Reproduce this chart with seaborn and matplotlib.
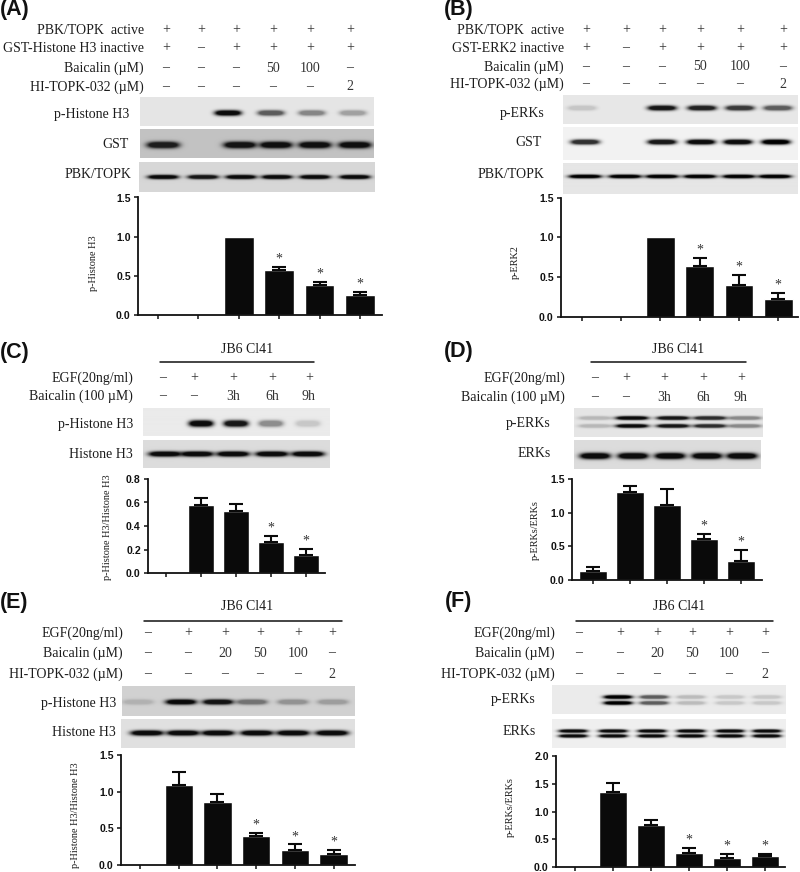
import numpy as np
import matplotlib
matplotlib.use('Agg')
import matplotlib.pyplot as plt
import seaborn as sns

# bar values
a_vals = [0, 0, 1.0, 0.57, 0.38, 0.26]
a_errs = [0, 0, 0, 0.04, 0.04, 0.03]
a_star = [3, 4, 5]
b_vals = [0, 0, 1.0, 0.64, 0.40, 0.22]
b_errs = [0, 0, 0, 0.10, 0.13, 0.08]
b_star = [3, 4, 5]
c_vals = [0, 0.58, 0.53, 0.26, 0.15]
c_errs = [0, 0.06, 0.055, 0.055, 0.055]
c_star = [3, 4]
d_vals = [0.13, 1.31, 1.12, 0.61, 0.28]
d_errs = [0.06, 0.09, 0.23, 0.08, 0.17]
d_star = [3, 4]
e_vals = [0, 1.09, 0.86, 0.40, 0.20, 0.15]
e_errs = [0, 0.18, 0.11, 0.04, 0.08, 0.05]
e_star = [3, 4, 5]
f_vals = [0, 1.36, 0.75, 0.26, 0.17, 0.19]
f_errs = [0, 0.15, 0.10, 0.08, 0.06, 0.04]
f_star = [3, 4, 5]

# treatment rows
a_rows = [('PBK/TOPK  active', ['+', '+', '+', '+', '+', '+']),
          ('GST-Histone H3 inactive', ['+', '–', '+', '+', '+', '+']),
          ('Baicalin (µM)', ['–', '–', '–', '50', '100', '–']),
          ('HI-TOPK-032 (µM)', ['–', '–', '–', '–', '–', '2'])]
b_rows = [('PBK/TOPK  active', ['+', '+', '+', '+', '+', '+']),
          ('GST-ERK2 inactive', ['+', '–', '+', '+', '+', '+']),
          ('Baicalin (µM)', ['–', '–', '–', '50', '100', '–']),
          ('HI-TOPK-032 (µM)', ['–', '–', '–', '–', '–', '2'])]
time_rows = [('EGF(20ng/ml)', ['–', '+', '+', '+', '+']),
             ('Baicalin (100 µM)', ['–', '–', '3h', '6h', '9h'])]
dose_rows = [('EGF(20ng/ml)', ['–', '+', '+', '+', '+', '+']),
             ('Baicalin (µM)', ['–', '–', '20', '50', '100', '–']),
             ('HI-TOPK-032 (µM)', ['–', '–', '–', '–', '–', '2'])]

# band strength per lane, 0 is no band
a_phh3 = [0, 0, .95, .6, .42, .3]
a_gst = [.85, 0, .9, .92, .92, .92]
a_pbk = [.95, .9, .95, .95, .95, .95]
b_perk = [.15, 0, .9, .85, .75, .6]
b_gst = [.8, 0, .9, .95, .95, 1]
b_pbk = [1, 1, 1, 1, 1, 1]
c_phh3 = [0, .95, .9, .4, .15]
c_hh3 = [.95, .95, .95, .95, .95]
d_perk = [.2, .95, .9, .8, .4]
d_erk = [.95, .95, .95, .95, .95]
e_phh3 = [.15, .95, .9, .45, .3, .25]
e_hh3 = [.95, .95, .95, .95, .95, .95]
f_perk = [0, 1, .6, .2, .15, .15]
f_erk = [.95, .95, .95, .95, .95, .95]

W, H = 800, 872
SERIF = 'Liberation Serif'
INK = '#1c1c1c'

sns.set_theme(style='white', rc={'axes.facecolor': 'none'})
fig = plt.figure(figsize=(W / 100, H / 100), dpi=100, facecolor='white')


def put(x, y, s, **kw):
    kw.setdefault('family', SERIF)
    kw.setdefault('fontsize', 10)
    kw.setdefault('color', INK)
    kw.setdefault('va', 'center')
    fig.text(x / W, 1 - y / H, s, **kw)


def treatments(rows, ys, label_x, lanes):
    for (name, marks), y in zip(rows, ys):
        put(label_x, y, name, ha='right')
        for x, m in zip(lanes, marks):
            put(x, y, m, ha='center', color='#333333')


def blot(box, bg, lanes, level, ys, hw, hh, name, name_x, name_y):
    x0, y0, x1, y1 = box
    ax = fig.add_axes([x0 / W, 1 - y1 / H, (x1 - x0) / W, (y1 - y0) / H])
    xx, yy = np.meshgrid(np.linspace(x0, x1, (x1 - x0) * 3),
                         np.linspace(y0, y1, (y1 - y0) * 3))
    img = np.ones_like(xx)
    for x, lev in zip(lanes, level):
        for y in ys:
            # flat topped band, the real ones saturate
            band = np.minimum(1, 1.7 * np.exp(-((xx - x) / hw) ** 4 - ((yy - y) / hh) ** 2))
            img *= 1 - lev * band
    ax.imshow(img * bg, cmap='gray', vmin=0, vmax=1, aspect='auto',
              interpolation='bilinear')
    ax.axis('off')
    put(name_x, name_y, name, ha='right')


def bars(left, right, top, zero, tick0, step, vals, errs, stars, ymax, yticks, ylabel, label_x, label_y):
    ax = fig.add_axes([left / W, 1 - zero / H, (right - left) / W, (zero - top) / H])
    lanes = [str(i) for i in range(len(vals))]
    sns.barplot(x=lanes, y=vals, color='#0a0a0a', saturation=1, width=0.73,
                errorbar=None, ax=ax)
    pos = np.arange(len(vals))
    keep = np.array(errs) > 0
    v = np.array(vals)[keep]
    e = np.array(errs)[keep]
    ax.errorbar(pos[keep], v, yerr=[np.zeros_like(e), e], fmt='none', ecolor='#0a0a0a',
                elinewidth=1.5, capsize=5.2, capthick=1.5)
    for i in stars:
        ax.annotate('*', (i, vals[i] + errs[i]), xytext=(0, 1), textcoords='offset points',
                    ha='center', va='bottom', family=SERIF, fontsize=10, color='#333333')
    ax.set_xlim((left - tick0) / step, (right - tick0) / step)
    ax.set_ylim(0, ymax)
    ax.set_yticks(yticks)
    ax.set_yticklabels(['%.1f' % t for t in yticks], family='Liberation Sans',
                       fontweight='bold', fontsize=7.6, color='#111111')
    ax.set_xticks(pos)
    ax.set_xticklabels([])
    ax.set_xlabel('')
    ax.tick_params(axis='both', which='both', direction='out', length=3.2, width=1.1,
                   color='#111111', bottom=True, left=True, pad=2)
    sns.despine(ax=ax)
    for side in ['left', 'bottom']:
        ax.spines[side].set_linewidth(1.3)
        ax.spines[side].set_color('#111111')
    put(label_x, label_y, ylabel, rotation=90, ha='center', fontsize=7.4)


def header(cx, y_text, x0, x1, y_line):
    put(cx, y_text, 'JB6 Cl41', ha='center')
    fig.add_artist(plt.Line2D([x0 / W, x1 / W], [1 - y_line / H] * 2, color='#111111', lw=1.1))


for s, x, y in [('(A)', 0, 10), ('(B)', 444, 10), ('(C)', 0, 352),
                ('(D)', 444, 351), ('(E)', 0, 602), ('(F)', 445, 601)]:
    put(x, y, s, family='Liberation Sans', fontweight='bold', fontsize=15.5, color='#111111', ha='left')

# panel A
treatments(a_rows, [30, 48, 68, 87], 144, [166, 201, 236, 273, 310, 350])
blot((140, 97, 374, 126), .90, [166, 203, 228, 271, 312, 353], a_phh3, [113], 13, 2.6, 'p-Histone H3', 129, 114)
blot((140, 129, 374, 158), .76, [163, 203, 240, 276, 315, 355], a_gst, [145], 16, 3.2, 'GST', 129, 144)
blot((139, 162, 375, 192), .84, [163, 203, 241, 277, 315, 355], a_pbk, [177], 15, 2.0, 'PBK/TOPK', 131, 175)
bars(138, 382, 197.5, 315, 158, 40.4, a_vals, a_errs, a_star, 1.5, [0, .5, 1, 1.5], 'p-Histone H3', 94, 263)

# panel B
treatments(b_rows, [30, 48, 67, 84], 564, [586, 626, 662, 700, 740, 783])
blot((563, 95, 798, 124), .91, [582, 625, 662, 702, 740, 778], b_perk, [108], 14, 2.4, 'p-ERKs', 545, 113)
blot((563, 127, 798, 160), .95, [585, 625, 662, 701, 738, 776], b_gst, [142], 14, 2.4, 'GST', 542, 143)
blot((563, 163, 798, 194), .90, [585, 625, 662, 700, 739, 775], b_pbk, [177], 16, 1.7, 'PBK/TOPK', 544, 174)
bars(561, 798, 197.5, 316.7, 581.7, 39.3, b_vals, b_errs, b_star, 1.5, [0, .5, 1, 1.5], 'p-ERK2', 515, 262)

# panel C
header(247, 349, 160, 314, 362)
treatments(time_rows, [378, 396], 133, [163, 194, 233, 272, 309])
blot((143, 408, 330, 436), .92, [163, 201, 236, 271, 308], c_phh3, [424], 12, 3, 'p-Histone H3', 133, 424)
blot((143, 440, 330, 468), .86, [165, 197, 233, 272, 308], c_hh3, [454], 16, 2.5, 'Histone H3', 133, 454)
bars(148, 325, 479, 573, 166, 35, c_vals, c_errs, c_star, 0.8, [0, .2, .4, .6, .8], 'p-Histone H3/Histone H3', 108, 527)

# panel D
header(678, 349, 591, 746, 362)
treatments(time_rows, [378, 397], 565, [595, 626, 664, 703, 741])
blot((574, 408, 763, 437), .90, [595, 632, 673, 710, 745], d_perk, [418, 426], 16, 1.8, 'p-ERKs', 551, 423)
blot((574, 440, 761, 469), .86, [595, 633, 670, 707, 742], d_erk, [456], 15, 3, 'ERKs', 551, 453)
bars(572, 762, 479, 580, 593, 37, d_vals, d_errs, d_star, 1.5, [0, .5, 1, 1.5], 'p-ERKs/ERKs', 535, 530)

# panel E
header(247, 606, 144, 342, 621)
treatments(dose_rows, [633, 653, 674], 123, [148, 188, 225, 260, 298, 332])
blot((122, 686, 355, 716), .82, [138, 181, 218, 252, 293, 333], e_phh3, [702], 15, 2.5, 'p-Histone H3', 116, 703)
blot((121, 719, 355, 748), .88, [147, 183, 218, 257, 293, 332], e_hh3, [733], 16, 2.5, 'Histone H3', 116, 732)
bars(121, 355, 755, 865, 140, 38.7, e_vals, e_errs, e_star, 1.5, [0, .5, 1, 1.5], 'p-Histone H3/Histone H3', 75, 815)

# panel F
header(679, 606, 576, 773, 621)
treatments(dose_rows, [633, 653, 674], 555, [579, 620, 657, 692, 729, 765])
blot((552, 685, 786, 714), .92, [590, 618, 654, 691, 730, 767], f_perk, [697, 703], 14, 1.8, 'p-ERKs', 536, 700)
blot((552, 719, 786, 748), .94, [573, 613, 652, 691, 730, 767], f_erk, [731, 736], 14, 1.6, 'ERKs', 536, 731)
bars(556, 785, 756, 867, 575, 38, f_vals, f_errs, f_star, 2.0, [0, .5, 1, 1.5, 2], 'p-ERKs/ERKs', 510, 807)

fig.savefig('out.png', dpi=100, facecolor='white')
